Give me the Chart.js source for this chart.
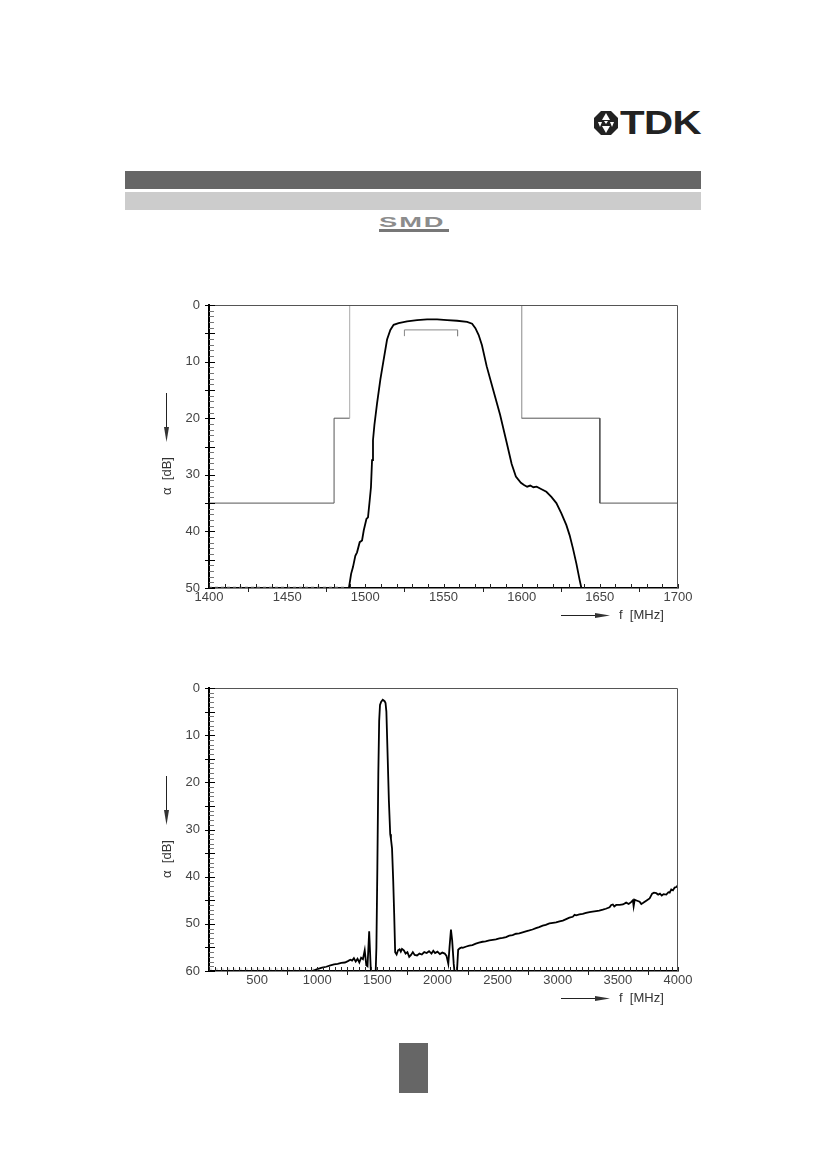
<!DOCTYPE html>
<html>
<head>
<meta charset="utf-8">
<script src="https://cdn.jsdelivr.net/npm/chart.js@4.4.1/dist/chart.umd.min.js"></script>
<style>
body { margin: 0; background: #fff; font-family: "Liberation Sans", Arial, sans-serif; }
#page { position: relative; width: 826px; height: 1169px; overflow: hidden; }
.box { position: absolute; }
#tdk { position: absolute; left: 620px; top: 106px; font-size: 33px; line-height: 33px; font-weight: bold; color: #222;
       transform: scaleX(1.22); transform-origin: left top; letter-spacing: -0.5px; }
#smd { position: absolute; left: 379px; top: 215px; font-size: 14px; line-height: 14px; font-weight: bold; color: #8c8c8c;
       letter-spacing: 1px; transform: scaleX(1.95); transform-origin: left top; }
#smdbar { position: absolute; left: 379px; top: 229px; width: 70px; height: 3px; background: #777; }
.chartbox { position: absolute; left: 150px; width: 560px; height: 340px; }
</style>
</head>
<body>
<div id="page">
  <svg class="box" style="left:593px;top:110px" width="26" height="26" viewBox="0 0 26 26">
    <polygon points="8,1 18,1 25,8 25,18 18,25 8,25 1,18 1,8" fill="#222"/>
    <polygon points="13,3 17,10 9,10" fill="#fff"/>
    <polygon points="5,12 9,12 7,17" fill="#fff"/>
    <polygon points="17,12 21,12 19,17" fill="#fff"/>
    <polygon points="9,16 17,16 13,23" fill="#fff"/>
    <polygon points="11,11 15,11 13,14" fill="#fff"/>
  </svg>
  <div id="tdk">TDK</div>
  <div class="box" style="left:125px;top:171px;width:576px;height:18px;background:#666"></div>
  <div class="box" style="left:125px;top:192px;width:576px;height:18px;background:#ccc"></div>
  <div id="smd">SMD</div>
  <div id="smdbar"></div>
  <div class="chartbox" style="top:290px"><canvas id="c1"></canvas></div>
  <div class="chartbox" style="top:673px"><canvas id="c2"></canvas></div>
  <div class="box" style="left:399px;top:1043px;width:29px;height:50px;background:#666"></div>
</div>
<script>
// chart 1: passband detail
const f1 = [1489.5, 1490.9, 1492.1, 1493.6, 1494.7, 1496.4, 1497.9, 1499, 1500.7, 1501.7, 1502.8, 1503.6, 1504.3, 1504.9,
            1505.8, 1507.5, 1509.6, 1511.7, 1513.9, 1516, 1518.1, 1521.3, 1526.7, 1533.1, 1539.5, 1545.9, 1552.3, 1558.7,
            1565.1, 1568.3, 1570.4, 1572.5, 1574.6, 1577.6, 1581.9, 1586.2, 1590.4, 1593.6, 1596.3, 1599.5, 1601.5, 1603.5,
            1605.5, 1607.5, 1609.6, 1612.4, 1615.8, 1619, 1622.2, 1625.4, 1628.6, 1630.7, 1632.8, 1635, 1637.1, 1638.2];
const a1 = [50, 47.5, 46.3, 44.3, 43.7, 41.9, 41.6, 39.8, 37.8, 37.5, 34.5, 32.2, 27.4, 23.9,
            21.2, 17.4, 13.2, 9.7, 6.1, 4.4, 3.5, 3.2, 2.9, 2.66, 2.54, 2.54, 2.66, 2.78,
            3.0, 3.3, 4.1, 5.3, 7.1, 10.8, 15.1, 19.4, 24.3, 28.1, 30.3, 31.4, 31.8, 32.1,
            31.9, 32.2, 32.1, 32.5, 33.0, 33.9, 35.0, 36.8, 38.9, 40.7, 43.0, 45.7, 48.6, 50];
const floor1F = [1400, 1488];
const floor1A = [49.8, 49.8];
const maskLF = [1400, 1480, 1480, 1490, 1490];
const maskLA = [35, 35, 20, 20, 0];
const maskRF = [1600, 1600, 1650, 1650, 1700];
const maskRA = [0, 20, 20, 35, 35];
const bandF = [1525, 1525, 1559, 1559];
const bandA = [5.5, 4.4, 4.4, 5.5];
const xTicks1 = [1400, 1450, 1500, 1550, 1600, 1650, 1700];
const yTicks1 = [0, 10, 20, 30, 40, 50];

// chart 2: wideband
const f2 = [960, 1000, 1040, 1075, 1110, 1140, 1170, 1200, 1230, 1255, 1275, 1290, 1305, 1320, 1335, 1350, 1365, 1380,
            1395, 1408, 1418, 1432, 1445, 1452, 1485, 1492, 1500, 1508, 1515, 1522, 1532, 1545, 1560, 1568, 1575, 1585,
            1596, 1607, 1613, 1622, 1632, 1640, 1648, 1660, 1672, 1685, 1695, 1705, 1720, 1735, 1750, 1765, 1780, 1795,
            1810, 1830, 1850, 1870, 1890, 1910, 1930, 1950, 1965, 1980, 2000, 2020, 2040, 2060, 2075, 2090, 2100, 2112,
            2122, 2135, 2145, 2160, 2172, 2185, 2200, 2210, 2240, 2264, 2290, 2319, 2345, 2375, 2400, 2431, 2460, 2486,
            2515, 2542, 2570, 2597, 2625, 2653, 2680, 2708, 2735, 2764, 2790, 2819, 2845, 2875, 2900, 2931, 2960, 2986,
            3015, 3042, 3070, 3097, 3125, 3140, 3153, 3180, 3208, 3235, 3264, 3290, 3319, 3345, 3375, 3400, 3431, 3445,
            3458, 3470, 3486, 3515, 3542, 3569, 3590, 3610, 3625, 3631, 3640, 3660, 3681, 3695, 3708, 3736, 3764, 3785,
            3800, 3819, 3835, 3850, 3865, 3880, 3903, 3920, 3931, 3944, 3958, 3972, 3986, 4000];
const a2 = [60, 59.6, 59.3, 59.1, 58.8, 58.6, 58.5, 58.3, 58.2, 57.9, 57.6, 57.8, 57.3, 58.0, 57.4, 58.2, 57.2, 57.5,
            55.6, 58.8, 59.0, 51.6, 59.5, 61, 61, 55, 38, 18, 7, 3.6, 2.9, 2.5, 2.8, 3.2, 5, 14,
            24, 31, 32, 34, 41, 48, 56, 56.5, 55.6, 55.4, 55.9, 55.3, 55.6, 56.3, 56.0, 57.0, 56.6, 56.0,
            56.6, 56.7, 56.3, 56.5, 56.0, 56.2, 55.8, 56.3, 55.7, 56.2, 55.9, 56.4, 56.1, 56.3, 56.8, 58.5, 55, 51.2,
            53.5, 58.5, 61, 61, 55.5, 55.2, 55.0, 55.1, 54.8, 54.6, 54.5, 54.2, 54.0, 53.8, 53.7, 53.5, 53.4, 53.3,
            53.1, 53.0, 52.8, 52.5, 52.4, 52.1, 52.0, 51.8, 51.6, 51.4, 51.2, 50.9, 50.7, 50.4, 50.2, 49.9, 49.8, 49.7,
            49.5, 49.3, 49.0, 48.7, 48.5, 48.1, 48.2, 48.0, 47.9, 47.7, 47.5, 47.4, 47.3, 47.2, 47.0, 46.8, 46.5, 46.0,
            45.9, 46.3, 46.0, 46.0, 45.9, 45.5, 45.8, 45.4, 45.0, 46.3, 44.9, 45.1, 45.3, 45.8, 45.6, 45.1, 44.6, 43.6,
            43.4, 43.5, 43.8, 43.6, 44.0, 43.7, 43.8, 43.3, 43.4, 42.7, 42.9, 42.3, 42.2, 41.8];
const floor2F = [100, 980];
const floor2A = [59.6, 59.6];
const xTicks2 = [500, 1000, 1500, 2000, 2500, 3000, 3500, 4000];
const yTicks2 = [0, 10, 20, 30, 40, 50, 60];

const FONT = '"Liberation Sans", Arial, sans-serif';

function pts(xs, ys) {
    return xs.map((x, i) => ({ x: x, y: ys[i] }));
}

function decoPlugin(minorX, halfX) {
    return {
        id: 'deco',
        afterDraw(chart) {
            const ctx = chart.ctx;
            const a = chart.chartArea;
            const xs = chart.scales.x;
            const ys = chart.scales.y;
            ctx.save();
            ctx.lineWidth = 1;

            // top and right frame
            ctx.strokeStyle = '#555';
            ctx.beginPath();
            ctx.moveTo(a.left, a.top + 0.5);
            ctx.lineTo(a.right - 0.5, a.top + 0.5);
            ctx.lineTo(a.right - 0.5, a.bottom);
            ctx.stroke();

            // y ticks every dB, longer every 5
            for (let v = ys.min; v <= ys.max; v++) {
                const py = Math.round(ys.getPixelForValue(v)) + 0.5;
                ctx.beginPath();
                if (v % 5 === 0) {
                    ctx.strokeStyle = '#000';
                    ctx.moveTo(a.left - 4, py);
                    ctx.lineTo(a.left + 6, py);
                } else {
                    ctx.strokeStyle = '#777';
                    ctx.moveTo(a.left, py);
                    ctx.lineTo(a.left + 5, py);
                }
                ctx.stroke();
            }

            // x ticks pointing up
            ctx.strokeStyle = '#222';
            for (let v = Math.ceil(xs.min / minorX) * minorX; v <= xs.max; v += minorX) {
                const px = Math.round(xs.getPixelForValue(v)) + 0.5;
                ctx.beginPath();
                ctx.moveTo(px, a.bottom);
                ctx.lineTo(px, a.bottom - 4);
                ctx.stroke();
            }
            // x ticks pointing down, between labels
            for (let v = Math.ceil((xs.min - halfX) / (2 * halfX)) * 2 * halfX + halfX; v <= xs.max; v += 2 * halfX) {
                if (v < xs.min) continue;
                const px = Math.round(xs.getPixelForValue(v)) + 0.5;
                ctx.beginPath();
                ctx.moveTo(px, a.bottom);
                ctx.lineTo(px, a.bottom + 4);
                ctx.stroke();
            }

            // axis titles with arrows
            ctx.fillStyle = '#333';
            ctx.strokeStyle = '#222';
            const ax = a.left - 43;
            ctx.beginPath();
            ctx.moveTo(ax + 0.5, a.top + 88);
            ctx.lineTo(ax + 0.5, a.top + 126);
            ctx.stroke();
            ctx.beginPath();
            ctx.moveTo(ax - 2, a.top + 122);
            ctx.lineTo(ax + 3, a.top + 122);
            ctx.lineTo(ax + 0.5, a.top + 137);
            ctx.closePath();
            ctx.fill();

            ctx.save();
            ctx.translate(ax + 5, a.top + 171);
            ctx.rotate(-Math.PI / 2);
            ctx.font = '13px ' + FONT;
            ctx.textAlign = 'center';
            ctx.textBaseline = 'alphabetic';
            ctx.fillText('\u03b1  [dB]', 0, 0);
            ctx.restore();

            const ty = a.bottom + 27;
            ctx.beginPath();
            ctx.moveTo(a.right - 117, ty + 0.5);
            ctx.lineTo(a.right - 80, ty + 0.5);
            ctx.stroke();
            ctx.beginPath();
            ctx.moveTo(a.right - 83, ty - 2);
            ctx.lineTo(a.right - 83, ty + 3);
            ctx.lineTo(a.right - 68, ty + 0.5);
            ctx.closePath();
            ctx.fill();
            ctx.font = '13px ' + FONT;
            ctx.textAlign = 'left';
            ctx.textBaseline = 'middle';
            ctx.fillText('f  [MHz]', a.right - 59, ty);
            ctx.restore();
        }
    };
}

function axes(xMin, xMax, xTicks, yMax, yTicks) {
    return {
        x: {
            type: 'linear',
            min: xMin,
            max: xMax,
            afterBuildTicks: s => { s.ticks = xTicks.map(v => ({ value: v })); },
            afterFit: s => { s.height = 42; s.paddingLeft = 0; s.paddingRight = 0; },
            ticks: { callback: v => String(v), color: '#444', font: { family: FONT, size: 13 }, padding: 2, maxRotation: 0, autoSkip: false },
            grid: { display: false, drawTicks: false },
            border: { display: true, color: '#000', width: 1.5 }
        },
        y: {
            type: 'linear',
            reverse: true,
            min: 0,
            max: yMax,
            afterBuildTicks: s => { s.ticks = yTicks.map(v => ({ value: v })); },
            afterFit: s => { s.width = 59; s.paddingTop = 0; s.paddingBottom = 0; },
            ticks: { callback: v => String(v), color: '#444', font: { family: FONT, size: 13 }, padding: 9, autoSkip: false },
            grid: { display: false, drawTicks: false },
            border: { display: true, color: '#000', width: 2 }
        }
    };
}

const maskSegment = {
    borderColor: c => (c.p0.parsed.x === c.p1.parsed.x && Math.max(c.p0.parsed.y, c.p1.parsed.y) <= 20) ? '#aaa' : '#555'
};

const common = {
    responsive: true,
    maintainAspectRatio: false,
    animation: false,
    layout: { padding: { top: 15, right: 32, left: 0, bottom: 0 } },
    plugins: { legend: { display: false }, tooltip: { enabled: false } },
    elements: { point: { radius: 0 }, line: { tension: 0 } }
};

new Chart(document.getElementById('c1'), {
    type: 'line',
    data: {
        datasets: [
            { data: pts(f1, a1), borderColor: '#000', borderWidth: 1.8 },
            { data: pts(bandF, bandA), borderColor: '#888', borderWidth: 1 },
            { data: pts(maskLF, maskLA), borderColor: '#555', borderWidth: 1, segment: maskSegment },
            { data: pts(maskRF, maskRA), borderColor: '#555', borderWidth: 1, segment: maskSegment },
            { data: pts(floor1F, floor1A), borderColor: '#c8c8c8', borderWidth: 1, borderDash: [3, 3] }
        ]
    },
    options: Object.assign({}, common, { scales: axes(1400, 1700, xTicks1, 50, yTicks1) }),
    plugins: [decoPlugin(10, 25)]
});

new Chart(document.getElementById('c2'), {
    type: 'line',
    data: {
        datasets: [
            { data: pts(f2, a2), borderColor: '#000', borderWidth: 1.8 },
            { data: pts(floor2F, floor2A), borderColor: '#c8c8c8', borderWidth: 1, borderDash: [3, 3] }
        ]
    },
    options: Object.assign({}, common, { scales: axes(100, 4000, xTicks2, 60, yTicks2) }),
    plugins: [decoPlugin(50, 250)]
});
</script>
</body>
</html>
